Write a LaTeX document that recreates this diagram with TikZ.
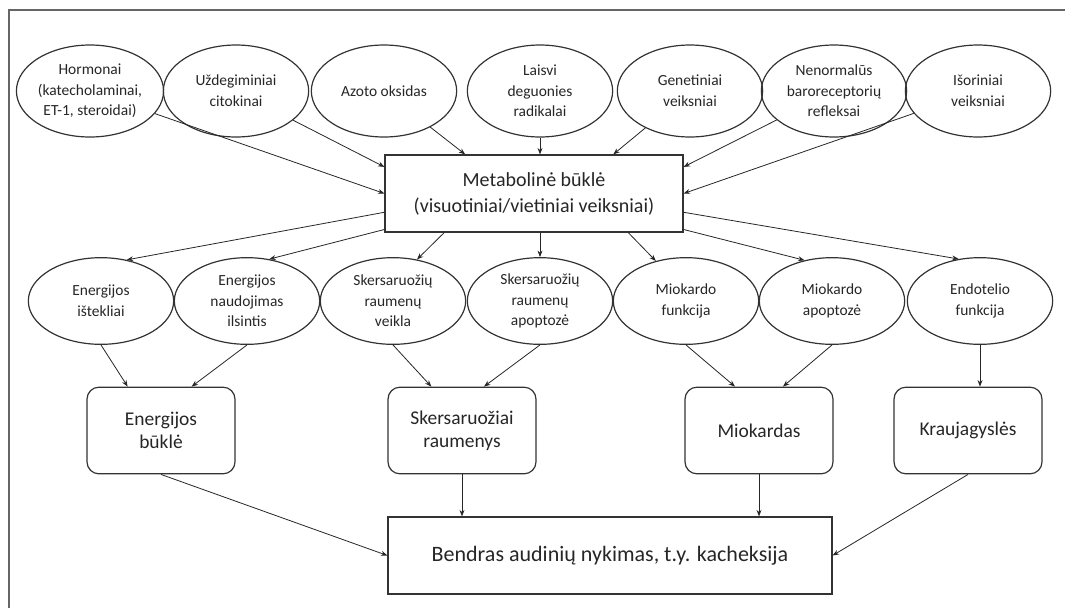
\documentclass[tikz,border=0pt]{standalone}
\usepackage{fontspec}
\setmainfont{Carlito}
\usetikzlibrary{arrows.meta, shapes.geometric, calc}
\def\yTop{91}
\def\yMid{301}
\def\yOrg{430.5}
\tikzset{
  kfac/.style={ellipse, draw=black!80, line width=0.9pt, minimum width=109pt,
    minimum height=69pt, inner sep=0pt, align=center, text=black!85,
    font=\fontsize{11.6}{15.5}\selectfont},
  kmid/.style={kfac, minimum height=65pt},
  korg/.style={draw=black!80, line width=0.9pt, rounded corners=9pt,
    minimum width=111pt, minimum height=65pt, align=center, text=black!85,
    font=\fontsize{14.6}{17}\selectfont},
  kmain/.style={draw=black!80, line width=0.9pt, align=center, text=black!85, inner sep=0pt},
  karr/.style={-{Stealth[length=1.7mm, width=1.3mm]}, line width=0.6pt, black!85},
}

\begin{document}
\begin{tikzpicture}[x=0.75pt, y=-0.75pt]
  \useasboundingbox (0,0) rectangle (1065,608);
  \draw[black!60, line width=0.8pt] (1065,10) -| (9,608);

  % poveikio veiksniai
  \node[kfac] (horm) at (90,\yTop) {Hormonai\\(katecholaminai,\\ET-1, steroidai)};
  \node[kfac] (uzd) at (236,\yTop) {Uždegiminiai\\citokinai};
  \node[kfac] (azo) at (384,\yTop) {Azoto oksidas};
  \node[kfac] (lais) at (540,\yTop) {Laisvi\\deguonies\\radikalai};
  \node[kfac] (gene) at (690,\yTop) {Genetiniai\\veiksniai};
  \node[kfac] (nenor) at (834,\yTop) {Nenormalūs\\baroreceptorių\\refleksai};
  \node[kfac] (isor) at (978,\yTop) {Išoriniai\\veiksniai};

  \node[kmain, minimum width=223.5pt, minimum height=57.75pt,
    font=\fontsize{15}{19.5}\selectfont] (meta) at (534,193.5)
    {Metabolinė būklė\\(visuotiniai/vietiniai veiksniai)};

  \node[kmid] (ener) at (101,\yMid) {Energijos\\ištekliai};
  \node[kmid] (naud) at (247,\yMid) {Energijos\\naudojimas\\ilsintis};
  \node[kmid] (sveik) at (393,\yMid) {Skersaruožių\\raumenų\\veikla};
  \node[kmid] (sapop) at (540,\yMid) {Skersaruožių\\raumenų\\apoptozė};
  \node[kmid] (mfunk) at (686,\yMid) {Miokardo\\funkcija};
  \node[kmid] (mapop) at (832,\yMid) {Miokardo\\apoptozė};
  \node[kmid] (endo) at (980,\yMid) {Endotelio\\funkcija};

  \node[korg] (ebuk) at (161,\yOrg) {Energijos\\būklė};
  \node[korg] (sraum) at (462,\yOrg) {Skersaruožiai\\raumenys};
  \node[korg] (miok) at (759,\yOrg) {Miokardas};
  \node[korg] (krau) at (968,\yOrg) {Kraujagyslės};

  \node[kmain, minimum width=333pt, minimum height=57.75pt,
    font=\fontsize{16.5}{20}\selectfont] (bend) at (610,555.5)
    {Bendras audinių nykimas, t.y. kacheksija};

  % i metabolinę būklę
  \draw[karr] (horm) -- (meta.west);
  \draw[karr] (uzd) -- ($(meta.north west)!.16!(meta.south west)$);
  \draw[karr] (azo) -- ($(meta.north west)!.27!(meta.north east)$);
  \draw[karr] (lais) -- (lais |- meta.north);
  \draw[karr] (gene) -- ($(meta.north west)!.765!(meta.north east)$);
  \draw[karr] (nenor) -- ($(meta.north east)!.16!(meta.south east)$);
  \draw[karr] (isor) -- (meta.east);

  % is metabolinės būklės
  \draw[karr] ($(meta.north west)!.74!(meta.south west)$) -- (ener.58);
  \draw[karr] ($(meta.north west)!.96!(meta.south west)$) -- (naud.62);
  \draw[karr] ($(meta.south west)!.2!(meta.south east)$) -- (sveik.60);
  \draw[karr] (sapop |- meta.south) -- (sapop);
  \draw[karr] ($(meta.south west)!.815!(meta.south east)$) -- (mfunk.127);
  \draw[karr] ($(meta.north east)!.96!(meta.south east)$) -- (mapop.124);
  \draw[karr] ($(meta.north east)!.74!(meta.south east)$) -- (endo.117);

  % i organus
  \draw[karr] (ener.south) -- ([xshift=-25pt]ebuk.north);
  \draw[karr] (naud.south) -- ([xshift=23pt]ebuk.north);
  \draw[karr] (sveik.south) -- ([xshift=-23pt]sraum.north);
  \draw[karr] (sapop.south) -- ([xshift=16.5pt]sraum.north);
  \draw[karr] (mfunk.south) -- ([xshift=-18pt]miok.north);
  \draw[karr] (mapop.south) -- ([xshift=18pt]miok.north);
  \draw[karr] (endo.south) -- (endo.south |- krau.north);

  % i kacheksiją
  \draw[karr] (ebuk.south) -- (bend.west);
  \draw[karr] (sraum.south) -- (sraum.south |- bend.north);
  \draw[karr] (miok.south) -- (miok.south |- bend.north);
  \draw[karr] (krau.south) -- (bend.east);
\end{tikzpicture}
\end{document}
